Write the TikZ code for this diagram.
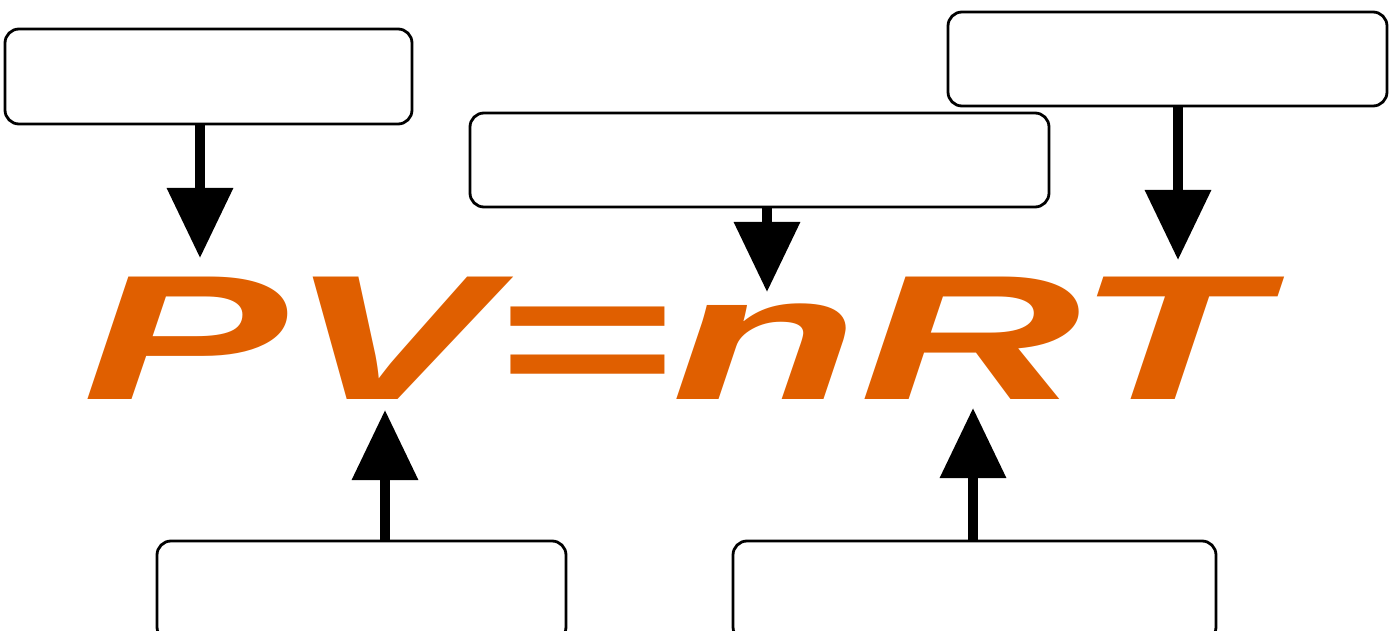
\documentclass[tikz,border=0pt]{standalone}
\usepackage{fontspec}
\usepackage{graphicx}
\usetikzlibrary{arrows.meta}
\newfontfamily\eqfont{Liberation Sans}
\definecolor{eqorange}{HTML}{E05F00}
\begin{document}
\begin{tikzpicture}[x=1pt,y=-1pt,
  box/.style={draw=black,line width=2.8pt,rounded corners=14pt,fill=white,inner sep=0pt},
  arr/.style={line width=10pt,-{Triangle[length=70pt,width=64pt]}}]
\useasboundingbox (0,0) rectangle (1393,631);
\node[box,minimum width=407pt,minimum height=95pt] (b1) at (208.5,76.5) {};
\node[box,minimum width=579pt,minimum height=94pt] (b2) at (759.5,160) {};
\node[box,minimum width=439pt,minimum height=94pt] (b3) at (1167.5,59) {};
\node[box,minimum width=409pt,minimum height=100pt] (b4) at (361.5,591) {};
\node[box,minimum width=483pt,minimum height=100pt] (b5) at (974.5,591) {};
\node[anchor=base,inner sep=0pt,text=eqorange] (eq) at (673,399)
  {\scalebox{1.725}[1]{\eqfont\bfseries\itshape\fontsize{178}{178}\selectfont PV=nRT}};
\coordinate (t1) at (200,258);
\coordinate (t2) at (767,292);
\coordinate (t3) at (1178,260);
\coordinate (t4) at (385,410);
\coordinate (t5) at (973,408);
\draw[arr] (b1.south -| t1) -- (t1);
\draw[arr] (b2.south -| t2) -- (t2);
\draw[arr] (b3.south -| t3) -- (t3);
\draw[arr] (b4.north -| t4) -- (t4);
\draw[arr] (b5.north -| t5) -- (t5);
\end{tikzpicture}
\end{document}
